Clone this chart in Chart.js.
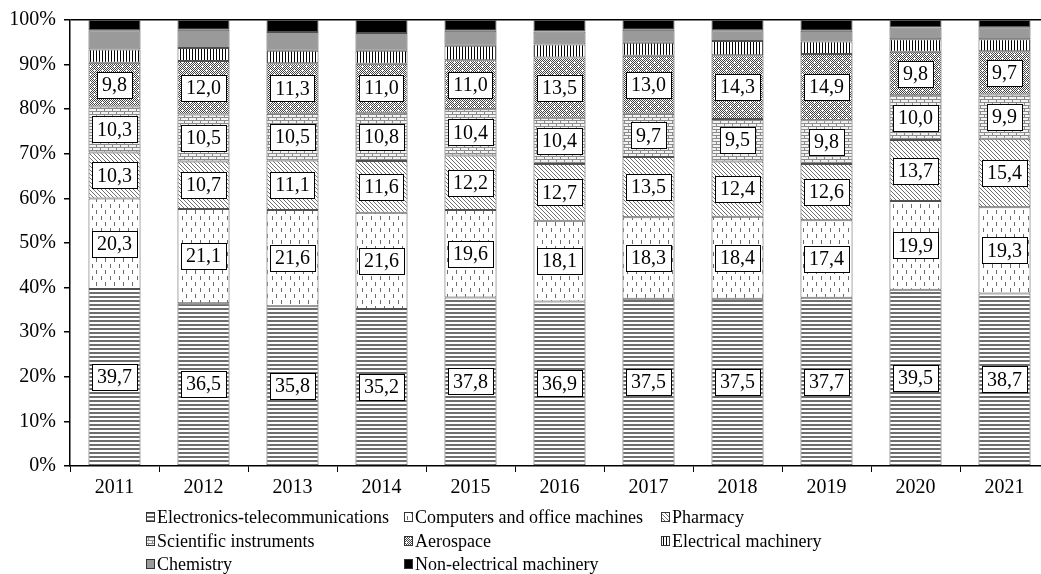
<!DOCTYPE html>
<html>
<head>
<meta charset="utf-8">
<script src="https://cdn.jsdelivr.net/npm/chart.js@4.4.1/dist/chart.umd.min.js"></script>
<style>
  html, body { margin: 0; padding: 0; background: #fff; overflow: hidden; }
  #wrap { width: 1060px; height: 574px; }
</style>
</head>
<body>
<div id="wrap"><canvas id="c" width="1060" height="574"></canvas></div>
<script>
// Share of high-tech sectors per year (%)
const years = ['2011','2012','2013','2014','2015','2016','2017','2018','2019','2020','2021'];
const electronics = [39.7, 36.5, 35.8, 35.2, 37.8, 36.9, 37.5, 37.5, 37.7, 39.5, 38.7];
const computers   = [20.3, 21.1, 21.6, 21.6, 19.6, 18.1, 18.3, 18.4, 17.4, 19.9, 19.3];
const pharmacy    = [10.3, 10.7, 11.1, 11.6, 12.2, 12.7, 13.5, 12.4, 12.6, 13.7, 15.4];
const scientific  = [10.3, 10.5, 10.5, 10.8, 10.4, 10.4,  9.7,  9.5,  9.8, 10.0,  9.9];
const aerospace   = [ 9.8, 12.0, 11.3, 11.0, 11.0, 13.5, 13.0, 14.3, 14.9,  9.8,  9.7];
const electrical  = [ 3.0,  2.9,  2.8,  2.9,  3.2,  2.9,  2.9,  3.2,  2.8,  2.8,  2.7];
const chemistry   = [ 4.3,  4.1,  4.2,  4.0,  3.4,  2.9,  2.9,  2.4,  2.4,  2.6,  2.7];
const nonElectrical = [2.3, 2.2,  2.7,  2.9,  2.4,  2.6,  2.2,  2.3,  2.4,  1.7,  1.6];
const yTicks = [0, 10, 20, 30, 40, 50, 60, 70, 80, 90, 100];

const SERIF = '"Liberation Serif", "Times New Roman", serif';

// Small tiles used as fill patterns
function tile(w, h, bg, draw) {
  const cv = document.createElement('canvas');
  cv.width = w; cv.height = h;
  const g = cv.getContext('2d');
  g.fillStyle = bg; g.fillRect(0, 0, w, h);
  draw(g);
  return g.createPattern(cv, 'repeat');
}
const patHStripes = tile(4, 4, '#ffffff', g => { g.fillStyle = '#6e6e6e'; g.fillRect(0, 0, 4, 2); });
const patVDashes = tile(9, 12, '#ffffff', g => {
  g.fillStyle = '#6a6a6a';
  g.fillRect(2, 0, 1, 4);
  g.fillRect(6, 6, 1, 4);
});
const patDiag = tile(4, 4, '#ffffff', g => {
  g.fillStyle = '#707070';
  for (let i = 0; i < 4; i++) g.fillRect(i, i, 1, 1);
});
const patBrick = tile(8, 6, '#f2f2f2', g => {
  g.fillStyle = '#8a8a8a';
  g.fillRect(0, 0, 8, 1);
  g.fillRect(0, 1, 1, 2);
  g.fillRect(0, 3, 8, 1);
  g.fillRect(4, 4, 1, 2);
});
const patAero = tile(8, 8, '#ffffff', g => {
  g.fillStyle = '#444444';
  for (let y = 0; y < 8; y++)
    for (let x = 0; x < 8; x++)
      if ((x + y) % 2 === 0) g.fillRect(x, y, 1, 1);
  g.fillStyle = '#ffffff';
  g.fillRect(2, 2, 1, 1); g.fillRect(6, 6, 1, 1);
});
const patVStripes = tile(3, 3, '#ffffff', g => { g.fillStyle = '#000000'; g.fillRect(0, 0, 1, 3); });

const series = [
  { label: 'Electronics-telecommunications', data: electronics, fill: patHStripes, boxed: true },
  { label: 'Computers and office machines', data: computers, fill: patVDashes, boxed: true },
  { label: 'Pharmacy', data: pharmacy, fill: patDiag, boxed: true },
  { label: 'Scientific instruments', data: scientific, fill: patBrick, boxed: true },
  { label: 'Aerospace', data: aerospace, fill: patAero, boxed: true },
  { label: 'Electrical machinery', data: electrical, fill: patVStripes, boxed: false },
  { label: 'Chemistry', data: chemistry, fill: '#9a9a9a', boxed: false },
  { label: 'Non-electrical machinery', data: nonElectrical, fill: '#000000', boxed: false }
];

// Value boxes drawn in the middle of each labelled segment
const valueBoxes = {
  id: 'valueBoxes',
  afterDatasetsDraw(chart) {
    const ctx = chart.ctx;
    ctx.save();
    ctx.font = '20px ' + SERIF;
    ctx.textAlign = 'center';
    ctx.textBaseline = 'middle';
    chart.data.datasets.forEach((ds, di) => {
      if (!ds.boxed) return;
      const meta = chart.getDatasetMeta(di);
      meta.data.forEach((el, i) => {
        const txt = ds.data[i].toFixed(1).replace('.', ',');
        const cy = (el.y + el.base) / 2;
        const w = ctx.measureText(txt).width + 10;
        const h = 26;
        ctx.fillStyle = '#ffffff';
        ctx.fillRect(Math.round(el.x - w / 2) + 0.5, Math.round(cy - h / 2) + 0.5, Math.round(w), h);
        ctx.strokeStyle = '#000000';
        ctx.lineWidth = 1;
        ctx.strokeRect(Math.round(el.x - w / 2) + 0.5, Math.round(cy - h / 2) + 0.5, Math.round(w), h);
        ctx.fillStyle = '#000000';
        ctx.fillText(txt, el.x, cy + 1);
      });
    });
    ctx.restore();
  }
};

// Three-column legend under the axis
const gridLegend = {
  id: 'gridLegend',
  afterDraw(chart) {
    const ctx = chart.ctx;
    const cols = [146, 404, 661];
    const rows = [517, 541, 564];
    ctx.save();
    ctx.font = '18px ' + SERIF;
    ctx.textBaseline = 'middle';
    ctx.textAlign = 'left';
    chart.data.datasets.forEach((ds, i) => {
      const x = cols[i % 3], y = rows[Math.floor(i / 3)];
      ctx.fillStyle = ds.backgroundColor;
      ctx.fillRect(x, y - 5, 8, 9);
      ctx.strokeStyle = '#333333';
      ctx.lineWidth = 1;
      ctx.strokeRect(x + 0.5, y - 4.5, 8, 9);
      ctx.fillStyle = '#000000';
      ctx.fillText(ds.label, x + 11, y + 1);
    });
    ctx.restore();
  }
};

new Chart(document.getElementById('c'), {
  type: 'bar',
  data: {
    labels: years,
    datasets: series.map(s => ({
      label: s.label,
      data: s.data,
      backgroundColor: s.fill,
      borderColor: '#505050',
      borderWidth: 1,
      borderSkipped: false,
      categoryPercentage: 1,
      barPercentage: 0.585,
      boxed: s.boxed
    }))
  },
  options: {
    responsive: false,
    animation: false,
    devicePixelRatio: 1,
    layout: { padding: { top: 19, right: 11, bottom: 78, left: 0 } },
    plugins: { legend: { display: false }, tooltip: { enabled: false } },
    scales: {
      x: {
        stacked: true,
        grid: { display: true, drawOnChartArea: false, offset: true, color: '#000', tickColor: '#000', tickLength: 6 },
        border: { display: true, color: '#000', width: 1.5 },
        ticks: { color: '#000', font: { family: SERIF, size: 20 }, padding: 4, maxRotation: 0 },
        afterFit(scale) { scale.height = 30; }
      },
      y: {
        stacked: true,
        min: 0, max: 100,
        afterBuildTicks(scale) { scale.ticks = yTicks.map(v => ({ value: v })); },
        grid: {
          display: true,
          color: ctx => (ctx.tick && ctx.tick.value === 100 ? '#000' : 'rgba(0,0,0,0)'),
          tickColor: '#000',
          tickLength: 6,
          lineWidth: 1.5
        },
        border: { display: true, color: '#000', width: 1.5 },
        ticks: { color: '#000', font: { family: SERIF, size: 20 }, padding: 8, callback: v => v + '%' },
        afterFit(scale) { scale.width = 70; }
      }
    }
  },
  plugins: [valueBoxes, gridLegend]
});
</script>
</body>
</html>
